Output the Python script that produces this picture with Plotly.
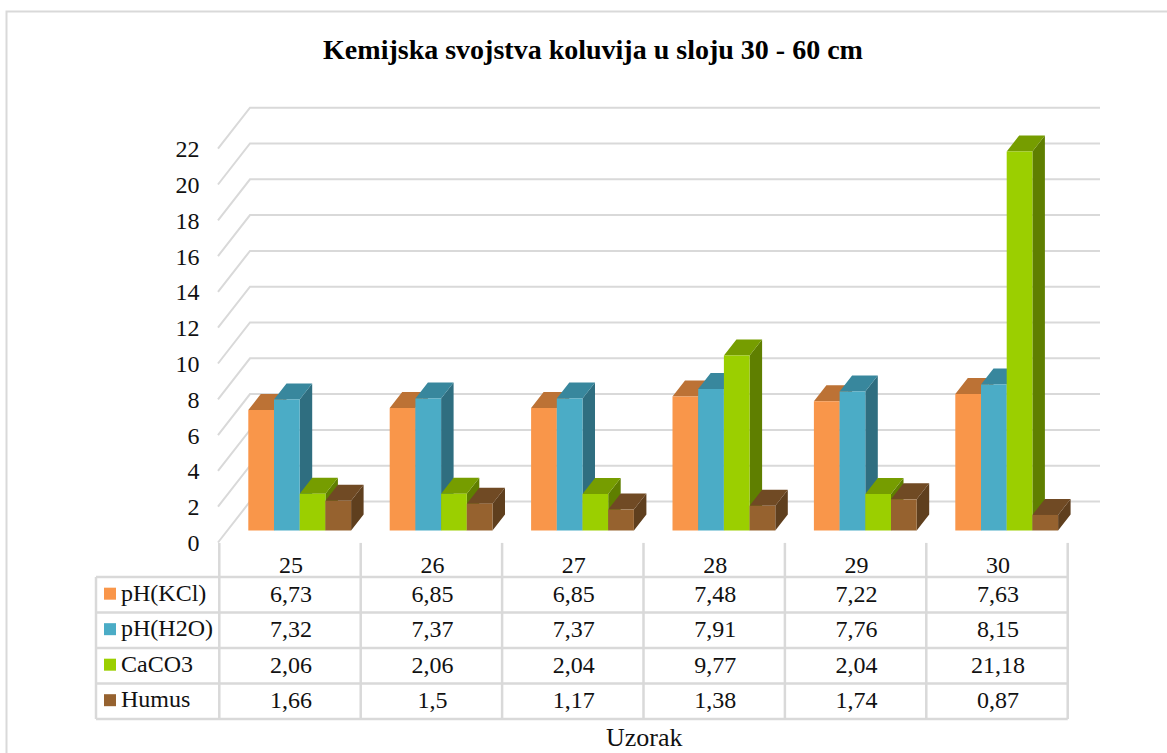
import plotly.graph_objects as go

# podaci
uzorci = ["25", "26", "27", "28", "29", "30"]
ph_kcl = [6.73, 6.85, 6.85, 7.48, 7.22, 7.63]
ph_h2o = [7.32, 7.37, 7.37, 7.91, 7.76, 8.15]
caco3 = [2.06, 2.06, 2.04, 9.77, 2.04, 21.18]
humus = [1.66, 1.5, 1.17, 1.38, 1.74, 0.87]
y_oznake = [0, 2, 4, 6, 8, 10, 12, 14, 16, 18, 20, 22]

serije = [
    ("pH(KCl)", ph_kcl, "#F9964A", "#BC7235", "#9E5E2D"),
    ("pH(H2O)", ph_h2o, "#4BACC6", "#38879D", "#2F6E80"),
    ("CaCO3", caco3, "#9BCF00", "#769D00", "#5F7F00"),
    ("Humus", humus, "#96622F", "#704A24", "#5F3F1E"),
]

# geometrija (pikseli slike)
W, H = 1167, 753
PX_KAT, PX_VRIJ, PX_RED = 141.4, 17.9, 35.5
X0, BAZA, BAZA_ZID, RED0 = 299.7, 530.5, 542.5, 577
SIVA = "#D9D9D9"
FONT = "Liberation Serif"
TEKST = "#111111"


def kx(px):
    return (px - X0) / PX_KAT


x_raspon = [kx(0), kx(W)]
sirina = 25.7 / PX_KAT
dx, dy = 12.5 / PX_KAT, 16 / PX_VRIJ

fig = go.Figure()

# ── Zid i mreža ──────────────────────────────────────────────────────────
zid_d = 41 / PX_VRIJ
zx, zy = [], []
for v in y_oznake:
    zx += [kx(218), kx(250), kx(1100), None]
    zy += [v, v + zid_d, v + zid_d, None]
fig.add_trace(go.Scatter(x=zx, y=zy, mode="lines", line=dict(color=SIVA, width=2), hoverinfo="skip", yaxis="y"))

# ── Bočne i gornje plohe stupaca ─────────────────────────────────────────
for s, (naziv, vrijednosti, boja, gore, bok) in enumerate(serije):
    bx, by, tx, ty = [], [], [], []
    for i, v in enumerate(vrijednosti):
        x1 = i + (s - 1) * sirina
        bx += [x1, x1 + dx, x1 + dx, x1, x1, None]
        by += [0, dy, v + dy, v, 0, None]
        tx += [x1 - sirina, x1 - sirina + dx, x1 + dx, x1, x1 - sirina, None]
        ty += [v, v + dy, v + dy, v, v, None]
    fig.add_trace(go.Scatter(x=bx, y=by, mode="lines", fill="toself", fillcolor=bok, line=dict(width=0), hoverinfo="skip", xaxis="x2", yaxis="y2"))
    fig.add_trace(go.Scatter(x=tx, y=ty, mode="lines", fill="toself", fillcolor=gore, line=dict(width=0), hoverinfo="skip", xaxis="x2", yaxis="y2"))

# ── Prednje plohe ────────────────────────────────────────────────────────
for naziv, vrijednosti, boja, gore, bok in serije:
    fig.add_trace(go.Bar(x=list(range(6)), y=vrijednosti, name=naziv, marker_color=boja, marker_line_width=0, xaxis="x3", yaxis="y3"))

# ── Tablica ──────────────────────────────────────────────────────────────
pomak = kx(290)
pomak_teksta = kx(291)
lijevo, desno = kx(96), 5 + pomak + 0.5
vrh_zaglavlja = -0.96
lx, ly = [], []
for r in range(5):
    lx += [lijevo, desno, None]
    ly += [r, r, None]
lx += [lijevo, lijevo, None]
ly += [0, 4, None]
for i in range(7):
    lx += [i - 0.5 + pomak, i - 0.5 + pomak, None]
    ly += [vrh_zaglavlja, 4, None]
fig.add_trace(go.Scatter(x=lx, y=ly, mode="lines", line=dict(color=SIVA, width=2.5), hoverinfo="skip", yaxis="y4"))

fig.add_trace(go.Scatter(
    x=[i + pomak_teksta for i in range(6)], y=[-0.28] * 6, text=uzorci, mode="text",
    textfont=dict(family=FONT, size=24, color=TEKST), hoverinfo="skip", yaxis="y4",
))
for r, (naziv, vrijednosti, boja, gore, bok) in enumerate(serije):
    fig.add_trace(go.Scatter(
        x=[i + pomak_teksta for i in range(6)], y=[r + 0.53] * 6,
        text=[str(v).replace(".", ",") for v in vrijednosti], mode="text",
        textfont=dict(family=FONT, size=24, color=TEKST), hoverinfo="skip", yaxis="y4",
    ))
    fig.add_trace(go.Scatter(
        x=[kx(110)], y=[r + 0.47], mode="markers",
        marker=dict(symbol="square", size=12, color=boja), hoverinfo="skip", yaxis="y4",
    ))
    fig.add_trace(go.Scatter(
        x=[kx(121)], y=[r + 0.5], text=[naziv], mode="text", textposition="middle right",
        textfont=dict(family=FONT, size=24, color=TEKST), hoverinfo="skip", yaxis="y4",
    ))

# ── Layout ───────────────────────────────────────────────────────────────
skriveno = dict(visible=False, range=x_raspon)
fig.update_layout(
    width=W, height=H, margin=dict(l=0, r=0, t=0, b=0),
    paper_bgcolor="white", plot_bgcolor="white", showlegend=False,
    barmode="group", bargap=1 - 4 * sirina, bargroupgap=0,
    font=dict(family=FONT, color=TEKST),
    title=dict(
        text="<b>Kemijska svojstva koluvija u sloju 30 - 60 cm</b>",
        x=593 / W, xanchor="center", y=1 - 49.5 / H, yanchor="middle",
        font=dict(family=FONT, size=28, color="black"),
    ),
    xaxis=skriveno,
    xaxis2=dict(skriveno, overlaying="x"),
    xaxis3=dict(skriveno, overlaying="x"),
    yaxis=dict(
        range=[-(H - BAZA_ZID) / PX_VRIJ, BAZA_ZID / PX_VRIJ], tickvals=y_oznake,
        anchor="free", position=199.5 / W, showgrid=False, zeroline=False, showline=False,
        tickfont=dict(family=FONT, size=24, color=TEKST),
    ),
    yaxis2=dict(visible=False, overlaying="y", anchor="x2", range=[-(H - BAZA) / PX_VRIJ, BAZA / PX_VRIJ]),
    yaxis3=dict(visible=False, overlaying="y", anchor="x3", range=[-(H - BAZA) / PX_VRIJ, BAZA / PX_VRIJ]),
    yaxis4=dict(visible=False, overlaying="y", range=[(H - RED0) / PX_RED, -RED0 / PX_RED]),
    annotations=[dict(
        text="Uzorak", x=644 / W, y=1 - 737 / H, xref="paper", yref="paper", yanchor="middle",
        showarrow=False, font=dict(family=FONT, size=26, color=TEKST),
    )],
    shapes=[dict(
        type="path", xref="paper", yref="paper",
        path=f"M {6.5 / W} 0 L {6.5 / W} {1 - 11.5 / H} L 1 {1 - 11.5 / H}",
        line=dict(color=SIVA, width=2),
    )],
)

fig.write_html("out.html", config=dict(displayModeBar=False), post_script="document.body.style.margin='0';")
